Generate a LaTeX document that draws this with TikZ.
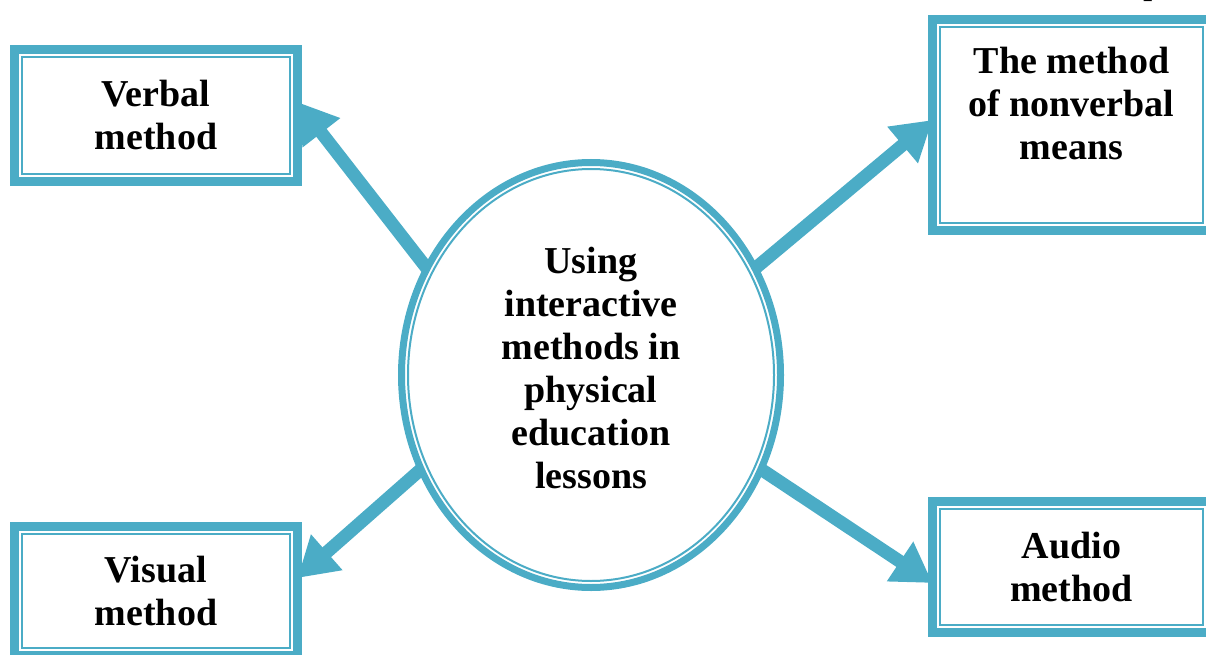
\documentclass[tikz,border=0pt]{standalone}
\usepackage{fontspec}
\setmainfont{Liberation Serif}
\usetikzlibrary{shapes.geometric,arrows.meta}
\pgfdeclarelayer{bg}
\pgfsetlayers{bg,main}
\definecolor{tealA}{RGB}{75,172,198}
\begin{document}
\begin{tikzpicture}[x=1pt,y=-1pt,
  box/.style={draw=tealA, line width=9pt, fill=white, inner sep=0pt, outer sep=0pt,
    align=center, font=\bfseries\fontsize{38}{43}\selectfont},
  oval/.style={ellipse, draw=tealA, line width=7pt, fill=white, inner sep=0pt, outer sep=0pt,
    align=center, font=\bfseries\fontsize{38}{43}\selectfont},
  thinrule/.style={draw=tealA, line width=2pt},
  arr/.style={draw=tealA, line width=13pt, -{Triangle[length=39pt,width=45pt]}}]
\useasboundingbox (0,0) rectangle (1206,655);

\node[box, minimum width=283pt, minimum height=132pt] (verbal) at (156,115.5) {Verbal\\method};
\node[box, minimum width=278pt, minimum height=211pt] (nonverbal) at (1071.5,125) {The method\\of nonverbal\\means\\\mbox{}};
\node[box, minimum width=283pt, minimum height=129pt] (visual) at (156,591) {Visual\\method};
\node[box, minimum width=278pt, minimum height=131pt] (audio) at (1071.5,567) {Audio\\method};
\node[oval, minimum width=379pt, minimum height=425pt] (c) at (591,375)
  {Using\\interactive\\methods in\\physical\\education\\lessons\\[-29pt]\mbox{}};

\foreach \n in {verbal,nonverbal,visual,audio}
  \draw[thinrule] ([shift={(7.5pt,-7.5pt)}]\n.north west) rectangle ([shift={(-7.5pt,7.5pt)}]\n.south east);
\draw[thinrule] (c.center) ellipse [x radius=183, y radius=206];

\node[font=\fontsize{38}{43}\selectfont, anchor=base, inner sep=0pt] (ptxt) at (1153,-6) {p};

\begin{pgfonlayer}{bg}
\draw[arr] (c.147) -- ([yshift=13.5pt]verbal.east);
\draw[arr] (c.33) -- ([yshift=5pt]nonverbal.west);
\draw[arr] (c.209) -- ([yshift=13pt]visual.east);
\draw[arr] (c.331) -- ([yshift=-16pt]audio.west);
\end{pgfonlayer}
\end{tikzpicture}
\end{document}
